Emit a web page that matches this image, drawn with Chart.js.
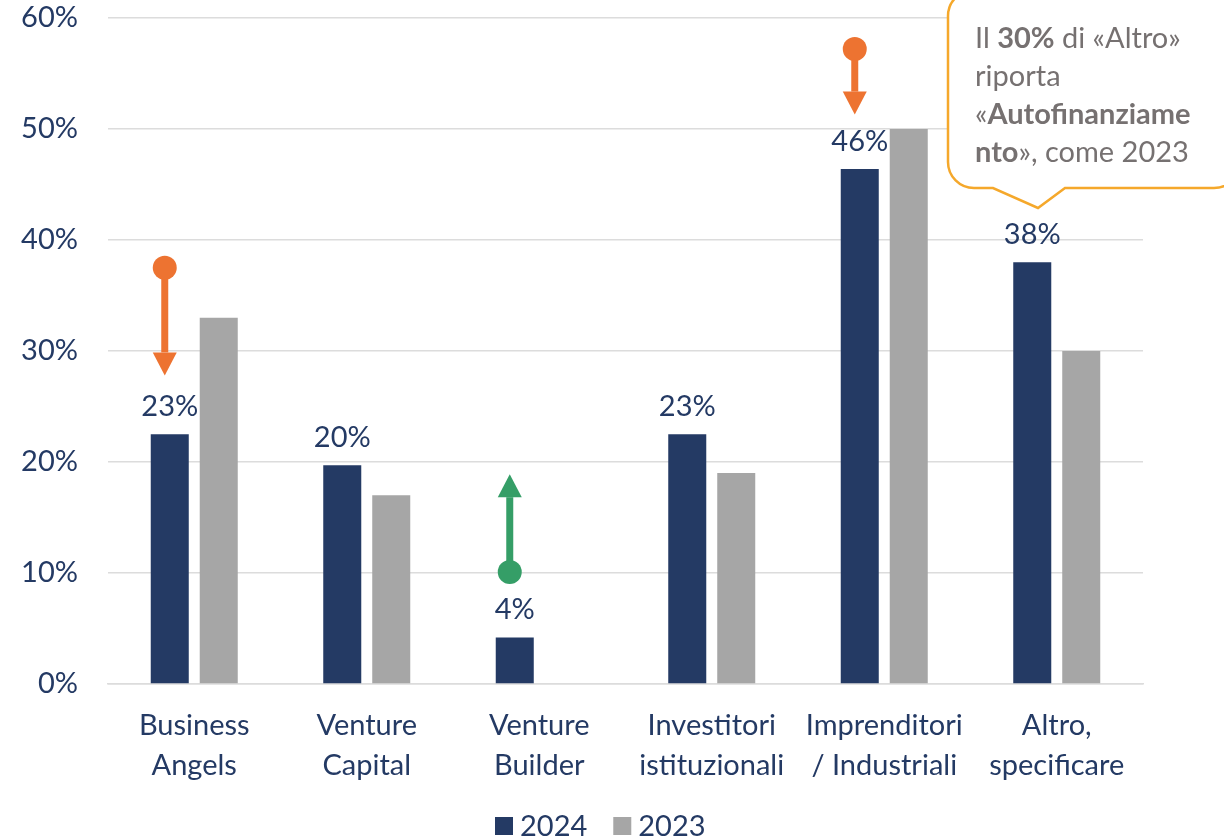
<!DOCTYPE html>
<html>
<head>
<meta charset="utf-8">
<script src="https://cdn.jsdelivr.net/npm/chart.js@4.4.1/dist/chart.umd.min.js"></script>
<style>
  html, body { margin: 0; padding: 0; background: #fff; }
  #wrap { width: 1224px; height: 840px; }
</style>
</head>
<body>
<div id="wrap"><canvas id="barChart" width="1224" height="840"></canvas></div>
<script>
const categories = [
    ["Business", "Angels"],
    ["Venture", "Capital"],
    ["Venture", "Builder"],
    ["Investitori", "istituzionali"],
    ["Imprenditori", "/ Industriali"],
    ["Altro,", "specificare"]
];
const values2024 = [22.5, 19.7, 4.2, 22.5, 46.4, 38];
const values2023 = [33, 17, null, 19, 50, 30];
const seriesNames = ["2024", "2023"];

// frecce di variazione: categoria, da, a
const arrowCategory = [0, 2, 4];
const arrowFrom = [37.5, 10.1, 57.2];
const arrowTo = [27.8, 18.9, 51.3];
const arrowColors = ["#ED7331", "#359E67", "#ED7331"];

const navy = "#243A64";
const grey = "#A6A6A6";
const fontFamily = "Lato, 'Open Sans', sans-serif";
const fontSize = 29;

const valueLabels = {
    id: "valueLabels",
    afterDatasetsDraw(chart) {
        const ctx = chart.ctx;
        const meta = chart.getDatasetMeta(0);
        ctx.save();
        ctx.font = fontSize + "px " + fontFamily;
        ctx.fillStyle = navy;
        ctx.textAlign = "center";
        ctx.textBaseline = "alphabetic";
        meta.data.forEach((bar, i) => {
            ctx.fillText(Math.round(values2024[i]) + "%", bar.x, bar.y - 18);
        });
        ctx.restore();
    }
};

const arrows = {
    id: "arrows",
    afterDatasetsDraw(chart) {
        const ctx = chart.ctx;
        const y = chart.scales.y;
        const meta = chart.getDatasetMeta(0);
        ctx.save();
        arrowCategory.forEach((c, i) => {
            const x = meta.data[c].x - 5;
            const y1 = y.getPixelForValue(arrowFrom[i]);
            const y2 = y.getPixelForValue(arrowTo[i]);
            const dir = y2 > y1 ? 1 : -1;
            const headLen = 23;
            ctx.fillStyle = arrowColors[i];
            ctx.strokeStyle = arrowColors[i];
            ctx.lineWidth = 7;
            ctx.beginPath();
            ctx.moveTo(x, y1);
            ctx.lineTo(x, y2 - dir * headLen);
            ctx.stroke();
            ctx.beginPath();
            ctx.arc(x, y1, 12, 0, Math.PI * 2);
            ctx.fill();
            ctx.beginPath();
            ctx.moveTo(x - 12, y2 - dir * headLen);
            ctx.lineTo(x + 12, y2 - dir * headLen);
            ctx.lineTo(x, y2);
            ctx.closePath();
            ctx.fill();
        });
        ctx.restore();
    }
};

// legenda disegnata a mano per controllare la posizione
const bottomLegend = {
    id: "bottomLegend",
    afterDraw(chart) {
        const ctx = chart.ctx;
        const cy = 826;
        let x = 495;
        ctx.save();
        ctx.font = fontSize + "px " + fontFamily;
        ctx.textBaseline = "middle";
        chart.data.datasets.forEach(ds => {
            ctx.fillStyle = ds.backgroundColor;
            ctx.fillRect(x, cy - 9, 18, 18);
            x += 25;
            ctx.fillStyle = navy;
            ctx.fillText(ds.label, x, cy + 1);
            x += ctx.measureText(ds.label).width + 26;
        });
        ctx.restore();
    }
};

const callout = {
    id: "callout",
    afterDraw(chart) {
        const ctx = chart.ctx;
        const left = 948, top = -10, right = 1240, bottom = 188, r = 26;
        const tipX = 1038, tipY = 208;
        ctx.save();
        ctx.beginPath();
        ctx.moveTo(left + r, top);
        ctx.lineTo(right - r, top);
        ctx.arcTo(right, top, right, top + r, r);
        ctx.lineTo(right, bottom - r);
        ctx.arcTo(right, bottom, right - r, bottom, r);
        ctx.lineTo(1065, bottom);
        ctx.lineTo(tipX, tipY);
        ctx.lineTo(993, bottom);
        ctx.lineTo(left + r, bottom);
        ctx.arcTo(left, bottom, left, bottom - r, r);
        ctx.lineTo(left, top + r);
        ctx.arcTo(left, top, left + r, top, r);
        ctx.closePath();
        ctx.fillStyle = "#fff";
        ctx.fill();
        ctx.lineWidth = 2.5;
        ctx.strokeStyle = "#F5A82B";
        ctx.stroke();

        const lines = [
            [["Il ", false], ["30%", true], [" di «Altro»", false]],
            [["riporta", false]],
            [["«", false], ["Autofinanziame", true]],
            [["nto", true], ["», come 2023", false]]
        ];
        ctx.fillStyle = "#767171";
        ctx.textBaseline = "alphabetic";
        lines.forEach((parts, li) => {
            let x = 975;
            const yy = 48 + li * 38;
            parts.forEach(p => {
                ctx.font = (p[1] ? "bold " : "") + "29px " + fontFamily;
                ctx.fillText(p[0], x, yy);
                x += ctx.measureText(p[0]).width;
            });
        });
        ctx.restore();
    }
};

const ctx = document.getElementById("barChart").getContext("2d");
new Chart(ctx, {
    type: "bar",
    data: {
        labels: categories,
        datasets: [
            { label: seriesNames[0], data: values2024, backgroundColor: navy },
            { label: seriesNames[1], data: values2023, backgroundColor: grey }
        ]
    },
    options: {
        responsive: false,
        animation: false,
        categoryPercentage: 0.568,
        barPercentage: 0.776,
        layout: { padding: { top: 18, right: 81, left: 0, bottom: 46 } },
        scales: {
            y: {
                min: 0,
                max: 60,
                ticks: {
                    stepSize: 10,
                    color: navy,
                    font: { size: fontSize, family: fontFamily },
                    padding: 30,
                    callback: v => v + "%"
                },
                grid: { color: "#DCDCDC", lineWidth: 1.5, drawTicks: false },
                border: { display: false },
                afterFit: s => {
                    s.width = 108;
                    s.paddingTop = 0;
                    s.paddingBottom = 0;
                }
            },
            x: {
                ticks: {
                    color: navy,
                    font: { size: fontSize, family: fontFamily, lineHeight: 1.38 },
                    padding: 14,
                    maxRotation: 0
                },
                grid: { display: false },
                border: { color: "#DCDCDC", width: 1.5 },
                afterFit: s => { s.height = 110; }
            }
        },
        plugins: {
            legend: { display: false },
            tooltip: { enabled: false }
        }
    },
    plugins: [valueLabels, arrows, bottomLegend, callout]
});
</script>
</body>
</html>
